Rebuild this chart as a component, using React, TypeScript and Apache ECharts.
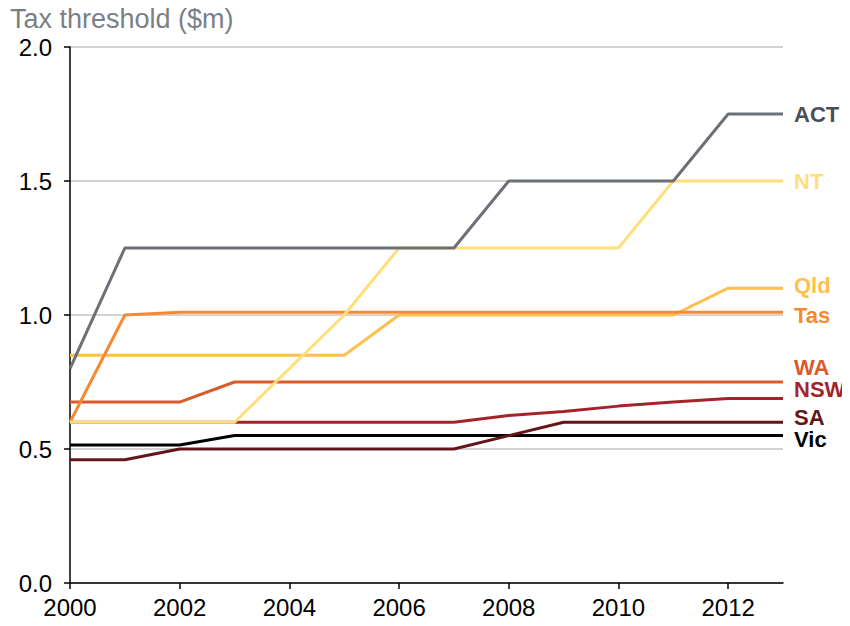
import React, { useEffect, useRef } from "react";
import * as echarts from "echarts";

const years = [2000, 2001, 2002, 2003, 2004, 2005, 2006, 2007, 2008, 2009, 2010, 2011, 2012, 2013];
const xTicks = [2000, 2002, 2004, 2006, 2008, 2010, 2012];

const actValues = [0.8, 1.25, 1.25, 1.25, 1.25, 1.25, 1.25, 1.25, 1.5, 1.5, 1.5, 1.5, 1.75, 1.75];
const ntValues = [0.6, 0.6, 0.6, 0.6, 0.8, 1.0, 1.25, 1.25, 1.25, 1.25, 1.25, 1.5, 1.5, 1.5];
const qldValues = [0.85, 0.85, 0.85, 0.85, 0.85, 0.85, 1.0, 1.0, 1.0, 1.0, 1.0, 1.0, 1.1, 1.1];
const tasValues = [0.6, 1.0, 1.01, 1.01, 1.01, 1.01, 1.01, 1.01, 1.01, 1.01, 1.01, 1.01, 1.01, 1.01];
const waValues = [0.675, 0.675, 0.675, 0.75, 0.75, 0.75, 0.75, 0.75, 0.75, 0.75, 0.75, 0.75, 0.75, 0.75];
const nswValues = [0.6, 0.6, 0.6, 0.6, 0.6, 0.6, 0.6, 0.6, 0.625, 0.64, 0.66, 0.675, 0.688, 0.688];
const saValues = [0.46, 0.46, 0.5, 0.5, 0.5, 0.5, 0.5, 0.5, 0.55, 0.6, 0.6, 0.6, 0.6, 0.6];
const vicValues = [0.515, 0.515, 0.515, 0.55, 0.55, 0.55, 0.55, 0.55, 0.55, 0.55, 0.55, 0.55, 0.55, 0.55];

const FONT = "'Liberation Sans', Arial, Helvetica, sans-serif";

type S = { name: string; values: number[]; color: string; labelColor: string; dy: number };

const seriesDefs: S[] = [
  { name: "Vic", values: vicValues, color: "#000000", labelColor: "#000000", dy: 4 },
  { name: "SA", values: saValues, color: "#63161a", labelColor: "#63161a", dy: -5 },
  { name: "NSW", values: nswValues, color: "#a4232b", labelColor: "#a4232b", dy: -9 },
  { name: "WA", values: waValues, color: "#da5a2b", labelColor: "#da5a2b", dy: -15 },
  { name: "Qld", values: qldValues, color: "#ffbf4e", labelColor: "#ffbf4e", dy: -3 },
  { name: "Tas", values: tasValues, color: "#f68a33", labelColor: "#f68a33", dy: 3 },
  { name: "NT", values: ntValues, color: "#ffdf7c", labelColor: "#ffdf7c", dy: 0 },
  { name: "ACT", values: actValues, color: "#6a7076", labelColor: "#4a4f55", dy: 0 },
];

export default function App() {
  const ref = useRef<HTMLDivElement>(null);
  useEffect(() => {
    if (!ref.current) return;
    const chart = echarts.init(ref.current, null, { renderer: "svg" });
    chart.setOption({
      animation: false,
      backgroundColor: "#ffffff",
      textStyle: { fontFamily: FONT },
      grid: { left: 70, right: 67, top: 47, bottom: 43, containLabel: false },
      graphic: [
        {
          type: "text",
          left: 10,
          top: 5,
          style: {
            text: "Tax threshold ($m)",
            fill: "#7a8085",
            font: `27px ${FONT}`,
          },
        },
      ],
      xAxis: {
        type: "value",
        min: 2000,
        max: 2013,
        interval: 1,
        splitLine: { show: false },
        axisLine: { show: true, lineStyle: { color: "#000", width: 1.5 } },
        axisTick: { show: true, length: 6, lineStyle: { color: "#000", width: 1.5 }, customValues: xTicks },
        axisLabel: {
          customValues: xTicks,
          color: "#000",
          fontSize: 24,
          fontFamily: FONT,
          margin: 12,
          formatter: (v: number) => String(v),
        },
      },
      yAxis: {
        type: "value",
        min: 0,
        max: 2,
        interval: 0.5,
        axisLine: { show: true, lineStyle: { color: "#000", width: 1.5 } },
        axisTick: { show: true, length: 6, lineStyle: { color: "#000", width: 1.5 } },
        axisLabel: {
          color: "#000",
          fontSize: 24,
          fontFamily: FONT,
          margin: 18,
          formatter: (v: number) => v.toFixed(1),
        },
        splitLine: { show: true, lineStyle: { color: "#c4c4c4", width: 1.5 } },
      },
      series: seriesDefs.map((s) => ({
        name: s.name,
        type: "line",
        data: years.map((y, i) => [y, s.values[i]]),
        symbol: "none",
        lineStyle: { color: s.color, width: 3 },
        itemStyle: { color: s.color },
        endLabel: {
          show: true,
          formatter: s.name,
          color: s.labelColor,
          fontSize: 22,
          lineHeight: 16,
          fontWeight: "bold",
          fontFamily: FONT,
          distance: 11,
          offset: [0, s.dy],
        },
      })),
    });
    return () => chart.dispose();
  }, []);
  return <div ref={ref} style={{ width: 850, height: 626, margin: -8 }} />;
}
